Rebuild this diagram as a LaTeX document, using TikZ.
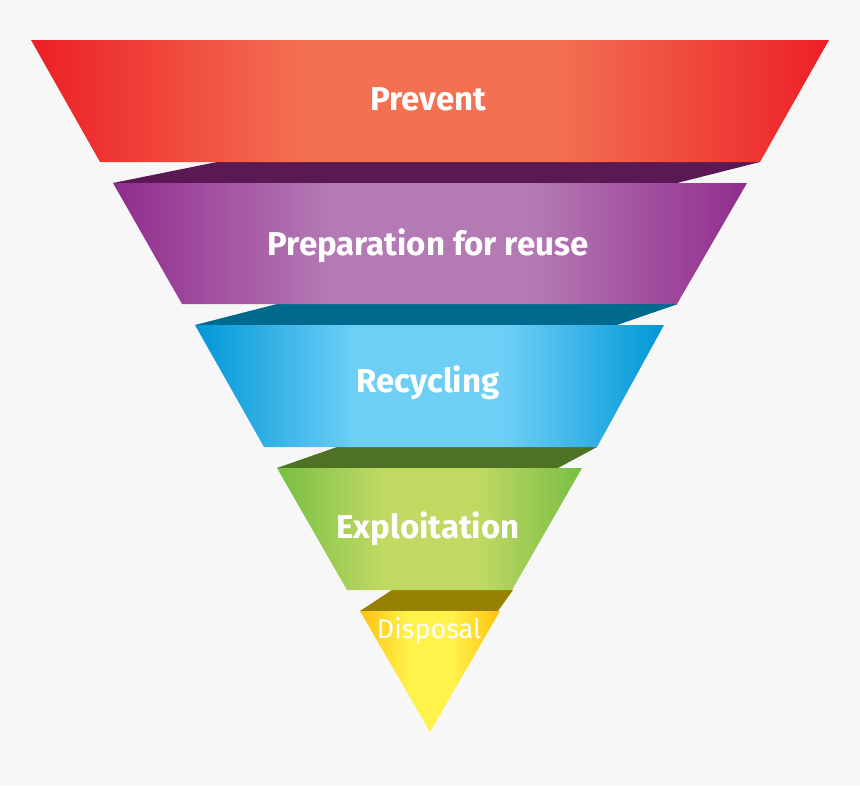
\documentclass[tikz,border=0pt]{standalone}
\usepackage{fontspec}
\usepackage{xcolor}
\usepackage{tikz}
\newfontfamily\bandfont{Fira Sans}

\definecolor{bg}{HTML}{F7F7F7}
\definecolor{redE}{HTML}{EC1F26}
\definecolor{redM}{HTML}{F37052}
\definecolor{purE}{HTML}{912C8D}
\definecolor{purM}{HTML}{B47AB4}
\definecolor{purS}{HTML}{5A1953}
\definecolor{bluE}{HTML}{0097D7}
\definecolor{bluM}{HTML}{6DCFF6}
\definecolor{bluS}{HTML}{006A8E}
\definecolor{grnE}{HTML}{78BE43}
\definecolor{grnM}{HTML}{BFD963}
\definecolor{grnS}{HTML}{4E7224}
\definecolor{yelE}{HTML}{FFC20E}
\definecolor{yelM}{HTML}{FFF24A}
\definecolor{yelS}{HTML}{968200}
\colorlet{bandL}{red}
\colorlet{bandM}{white}

% edge colour -> flat middle -> edge colour
\pgfdeclarehorizontalshading[bandL,bandM]{bandshade}{100bp}{%
  color(0bp)=(bandL); color(25bp)=(bandL); color(42bp)=(bandM);
  color(58bp)=(bandM); color(75bp)=(bandL); color(100bp)=(bandL)}

\begin{document}
\begin{tikzpicture}[
  x=1pt,y=-1pt,
  band/.style 2 args={/utils/exec={\colorlet{bandL}{#1}\colorlet{bandM}{#2}},shading=bandshade},
  shelf/.style={fill=#1},
  lbl/.style={text=white,anchor=base,inner sep=0pt,font=\bandfont\bfseries\fontsize{33}{33}\selectfont},
]
\fill[bg] (0,0) rectangle (860,785);
\useasboundingbox (0,0) rectangle (860,785);

% back faces
\path[shelf=purS] (113,183) -- (217,162) -- (760,162) -- (677,183) -- cycle;
\path[shelf=bluS] (195,325) -- (277,304) -- (678,304) -- (617,325) -- cycle;
\path[shelf=grnS] (277,468) -- (337,447) -- (597,447) -- (558,468) -- cycle;
\path[shelf=yelS] (360,611) -- (392,590) -- (513,590) -- (498,611) -- cycle;

% bands
\path[band={redE}{redM}] (31,40) -- (829,40) -- (760,162) -- (100,162) -- cycle;
\path[band={purE}{purM}] (113,183) -- (747,183) -- (677,304) -- (182,304) -- cycle;
\path[band={bluE}{bluM}] (195,325) -- (664,325) -- (597,447) -- (264,447) -- cycle;
\path[band={grnE}{grnM}] (277,468) -- (582,468) -- (512,590) -- (347,590) -- cycle;
\path[band={yelE}{yelM}] (360,611) -- (500,611) -- (430,732) -- cycle;

% labels
\node[lbl] (prevent) at (428,110) {Prevent};
\node[lbl] (reuse) at (428,255) {Preparation for reuse};
\node[lbl] (recycling) at (428,392) {Recycling};
\node[lbl] (exploit) at (428,538) {Exploitation};
\node[lbl,font=\bandfont\fontsize{27}{27}\selectfont] (disposal) at (429,638) {Disposal};
\end{tikzpicture}
\end{document}
